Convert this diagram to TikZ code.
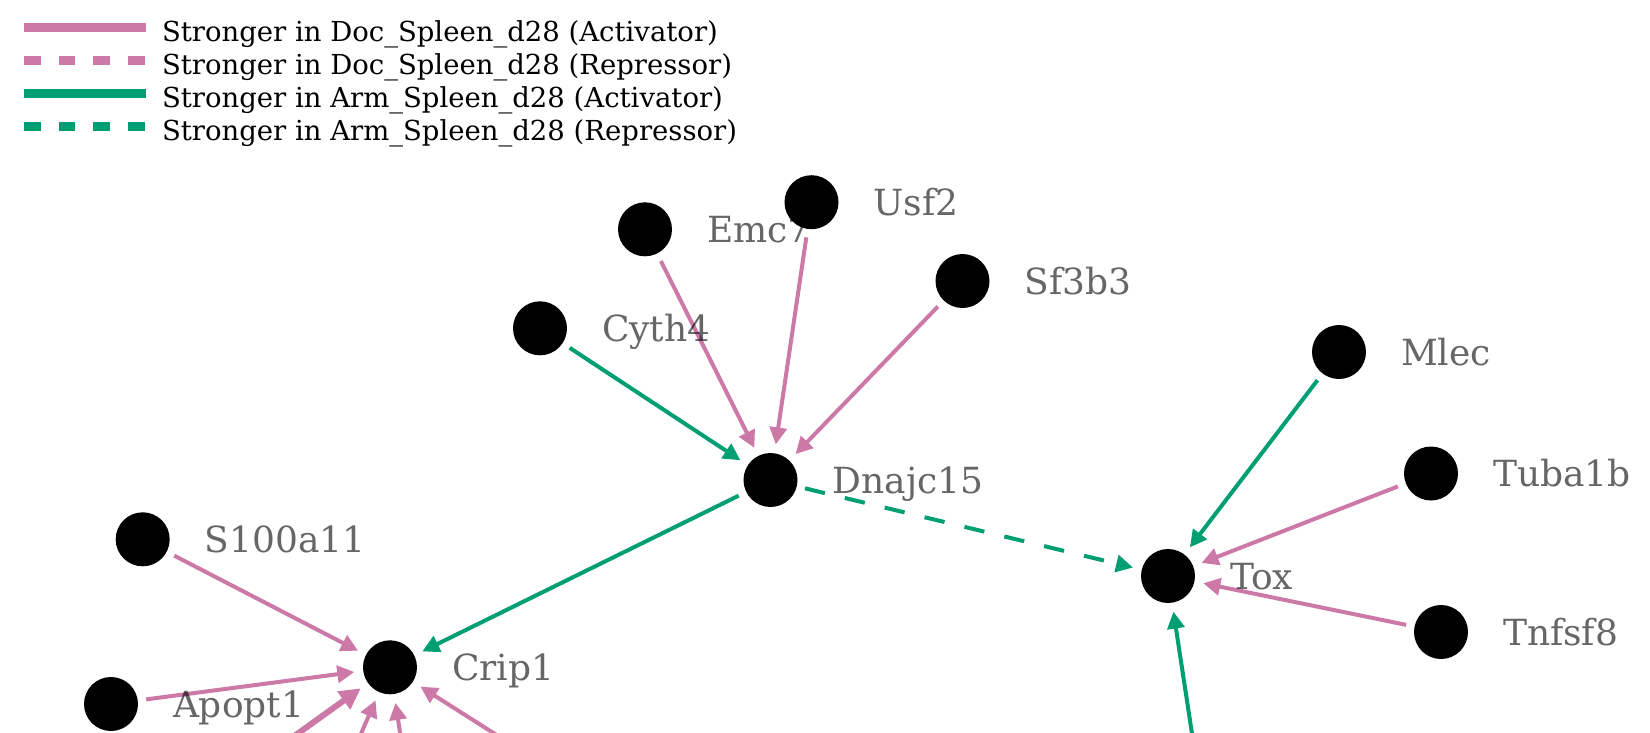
\documentclass[tikz,border=0pt]{standalone}
\usepackage{fontspec}
\setmainfont{DejaVu Serif}
\usetikzlibrary{arrows.meta}
\definecolor{pinkc}{HTML}{CC79A7}
\definecolor{greenc}{HTML}{009E73}
\pgfdeclarelayer{bg}
\pgfsetlayers{bg,main}
\tikzset{
  gnode/.style={circle, fill=black, minimum size=54pt, inner sep=0pt, outer sep=0pt},
  glabel/.style={anchor=base west, inner sep=0pt, outer sep=0pt, text=black, text opacity=0.6,
    font=\fontsize{36}{40}\selectfont},
  legtext/.style={anchor=base west, inner sep=0pt, outer sep=0pt, text=black,
    font=\fontsize{27.5}{30}\selectfont},
  edgebase/.style={line width=4pt, -{Triangle[length=17pt,width=17pt]}, shorten <=8.5pt, shorten >=9pt},
  pinkedge/.style={edgebase, draw=pinkc, -{Triangle[length=17pt,width=17pt,fill=pinkc]}},
  greenedge/.style={edgebase, draw=greenc},
  greendash/.style={greenedge, dash pattern=on 20.5pt off 20.5pt},
  thickpink/.style={pinkedge, line width=6pt, -{Triangle[length=21pt,width=21pt]}},
  legline/.style={line width=9pt},
  legdash/.style={line width=9pt, dash pattern=on 16.7pt off 18pt}
}
\begin{document}
\begin{tikzpicture}[x=1pt,y=-1pt]
\useasboundingbox (0,0) rectangle (1650,732);

% legend
\coordinate (l1a) at (24,27.3);  \coordinate (l1b) at (146,27.3);
\coordinate (l2a) at (24,60.3);  \coordinate (l2b) at (146,60.3);
\coordinate (l3a) at (24,93.3);  \coordinate (l3b) at (146,93.3);
\coordinate (l4a) at (24,126.3); \coordinate (l4b) at (146,126.3);
\draw[legline, pinkc] (l1a) -- (l1b);
\draw[legdash, pinkc] (l2a) -- (l2b);
\draw[legline, greenc] (l3a) -- (l3b);
\draw[legdash, greenc] (l4a) -- (l4b);
\node[legtext] (lt1) at (162,41.7) {Stronger in Doc\_Spleen\_d28 (Activator)};
\node[legtext] (lt2) at (162,74.7) {Stronger in Doc\_Spleen\_d28 (Repressor)};
\node[legtext] (lt3) at (162,107.7) {Stronger in Arm\_Spleen\_d28 (Activator)};
\node[legtext] (lt4) at (162,140.7) {Stronger in Arm\_Spleen\_d28 (Repressor)};

% nodes
\node[gnode] (emc7) at (645,229.3) {};
\node[gnode] (usf2) at (811.5,202.2) {};
\node[gnode] (sf3b3) at (962.5,281) {};
\node[gnode] (cyth4) at (540,328.3) {};
\node[gnode] (dnajc15) at (770.5,480) {};
\node[gnode] (mlec) at (1339,352) {};
\node[gnode] (tuba1b) at (1431,473.5) {};
\node[gnode] (tox) at (1168,576) {};
\node[gnode] (tnfsf8) at (1441,632) {};
\node[gnode] (s100a11) at (142.7,539.3) {};
\node[gnode] (crip1) at (390,667.3) {};
\node[gnode] (apopt1) at (111,704) {};

% free ends below the picture
\coordinate (b1) at (261,760);
\coordinate (b2) at (349.5,760);
\coordinate (b3) at (404.3,760);
\coordinate (b4) at (536,760);
\coordinate (b5) at (1196,760);

\begin{pgfonlayer}{bg}
% edges
\draw[pinkedge] (emc7) -- (dnajc15);
\draw[pinkedge] (usf2) -- (dnajc15);
\draw[pinkedge] (sf3b3) -- (dnajc15);
\draw[greenedge] (cyth4) -- (dnajc15);
\draw[greenedge] (dnajc15) -- (crip1);
\draw[greendash] (dnajc15) -- (tox);
\draw[greenedge] (mlec) -- (tox);
\draw[pinkedge] (tuba1b) -- (tox);
\draw[pinkedge] (tnfsf8) -- (tox);
\draw[greenedge] (b5) -- (tox);
\draw[pinkedge] (s100a11) -- (crip1);
\draw[pinkedge] (apopt1) -- (crip1);
\draw[thickpink] (b1) -- (crip1);
\draw[pinkedge] (b2) -- (crip1);
\draw[pinkedge] (b3) -- (crip1);
\draw[pinkedge] (b4) -- (crip1);
% labels
\node[glabel] (emc7l) at (707,242.6) {Emc7};
\node[glabel] (usf2l) at (873.5,215.5) {Usf2};
\node[glabel] (sf3b3l) at (1024.5,294.3) {Sf3b3};
\node[glabel] (cyth4l) at (602,341.6) {Cyth4};
\node[glabel] (dnajc15l) at (832.5,493.3) {Dnajc15};
\node[glabel] (mlecl) at (1401,365.3) {Mlec};
\node[glabel] (tuba1bl) at (1493,486.8) {Tuba1b};
\node[glabel] (toxl) at (1230,589.3) {Tox};
\node[glabel] (tnfsf8l) at (1503,645.3) {Tnfsf8};
\node[glabel] (s100a11l) at (204.7,552.6) {S100a11};
\node[glabel] (crip1l) at (452,680.6) {Crip1};
\node[glabel] (apopt1l) at (173,717.3) {Apopt1};
\end{pgfonlayer}
\end{tikzpicture}
\end{document}
